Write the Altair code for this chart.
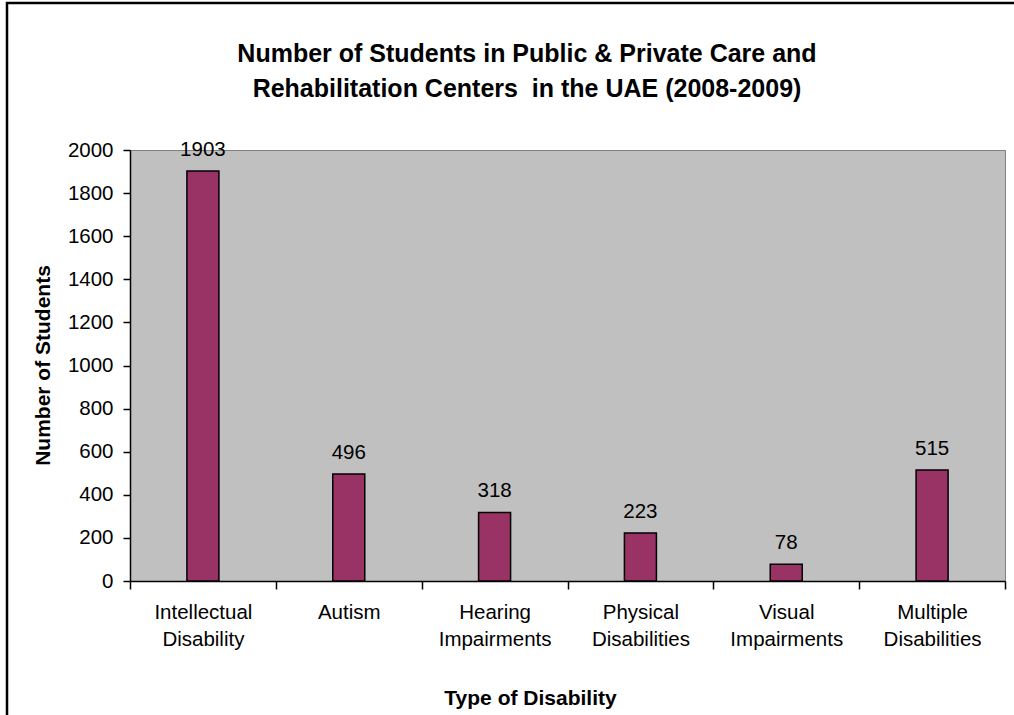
import altair as alt
import pandas as pd

categories = ["Intellectual Disability", "Autism", "Hearing Impairments",
              "Physical Disabilities", "Visual Impairments", "Multiple Disabilities"]
students = [1903, 496, 318, 223, 78, 515]
y_ticks = list(range(0, 2001, 200))
title_lines = ["Number of Students in Public & Private Care and",
               "Rehabilitation Centers\u00a0 in the UAE (2008-2009)"]

df = pd.DataFrame({"type": categories, "students": students})
one_df = pd.DataFrame({"k": [0]})

W, H = 875, 431
FONT = "Liberation Sans"

x_enc = alt.X(
    "type:N", sort=categories,
    scale=alt.Scale(paddingInner=0, paddingOuter=0),
    axis=alt.Axis(
        title="Type of Disability", labelExpr="split(datum.label, ' ')",
        labelAngle=0, tickBand="extent", domainColor="black", domainWidth=1.5,
        tickColor="black", tickSize=8, tickWidth=1.5, labelFont=FONT, labelFontSize=20.5,
        labelColor="black", labelPadding=13, labelLineHeight=27,
        titleFont=FONT, titleFontSize=21, titleFontWeight="bold", titleColor="black",
        titleX=400, titleY=123, titleBaseline="alphabetic", titleAlign="center",
    ),
)
y_enc = alt.Y(
    "students:Q",
    scale=alt.Scale(domain=[0, 2000], nice=False),
    axis=alt.Axis(
        title="Number of Students", values=y_ticks, grid=False, format="d",
        domainColor="black", domainWidth=1.5, tickColor="black", tickSize=7, tickWidth=1.5,
        labelFont=FONT, labelFontSize=20.5, labelColor="black", labelPadding=10,
        titleFont=FONT, titleFontSize=21, titleFontWeight="bold", titleColor="black",
        titleX=-87, titleY=215, titleBaseline="middle", titleAlign="center", titleAngle=-90,
    ),
)

bars = alt.Chart(df).mark_bar(
    size=32, color="#993366", stroke="black", strokeWidth=1.5
).encode(x=x_enc, y=y_enc)

labels = alt.Chart(df).mark_text(
    dy=-15, baseline="alphabetic", font=FONT, fontSize=20.5, color="black"
).encode(x=alt.X("type:N", sort=categories), y="students:Q", text="students:Q")

title = alt.Chart(one_df).mark_text(
    text=title_lines, font=FONT, fontSize=25, fontWeight="bold", color="black",
    align="center", baseline="alphabetic", lineHeight=35,
).encode(x=alt.value(527 - 130), y=alt.value(62 - 150))

frame = alt.Chart(one_df).mark_rect(
    fill=None, fillOpacity=0, stroke="black", strokeWidth=2.5
).encode(
    x=alt.value(7 - 130), x2=alt.value(1014 + 20 - 130),
    y=alt.value(3 - 150), y2=alt.value(715 + 20 - 150),
)

chart = alt.layer(bars, labels, title, frame).properties(
    width=W, height=H,
    autosize="none",
    padding={"left": 130, "top": 150, "right": 9, "bottom": 134},
    background="white",
).configure_view(
    fill="#C0C0C0", stroke="#808080", strokeWidth=1
)

chart.save("out.html", embed_options={"renderer": "svg", "actions": False})
